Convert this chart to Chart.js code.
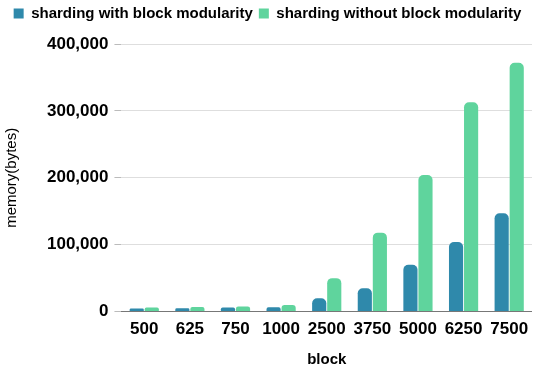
<!DOCTYPE html>
<html>
<head>
<meta charset="utf-8">
<script src="https://cdn.jsdelivr.net/npm/chart.js@4.4.1/dist/chart.umd.min.js"></script>
<style>
  html, body { margin: 0; padding: 0; background: #fff; }
  #wrap { width: 550px; height: 373px; }
</style>
</head>
<body>
<div id="wrap"><canvas id="chart"></canvas></div>
<script>
'use strict';

// categories (block count) and memory values in bytes
const blocks      = ['500', '625', '750', '1000', '2500', '3750', '5000', '6250', '7500'];
const withMod     = [4500, 5000, 6000, 6500, 20000, 35000, 70000, 104000, 147000];
const withoutMod  = [6000, 7000, 7500, 10000, 50000, 118000, 204000, 313000, 372000];
const yTicks      = [0, 100000, 200000, 300000, 400000];

const BLUE  = '#2f89ab';
const GREEN = '#5fd49d';
const FONT  = '"Liberation Sans", Arial, sans-serif';

// a bit of extra room under the legend
const legendGap = {
    id: 'legendGap',
    beforeInit(chart) {
        const fit = chart.legend.fit;
        chart.legend.fit = function () { fit.call(this); this.height += 13; };
    }
};

new Chart(document.getElementById('chart'), {
    type: 'bar',
    data: {
        labels: blocks,
        datasets: [
            { label: 'sharding with block modularity',    data: withMod,    backgroundColor: BLUE,  borderRadius: 5 },
            { label: 'sharding without block modularity', data: withoutMod, backgroundColor: GREEN, borderRadius: 5 }
        ]
    },
    plugins: [legendGap],
    options: {
        responsive: true,
        maintainAspectRatio: false,
        animation: false,
        devicePixelRatio: 1,
        layout: { padding: { left: 3, right: 18, top: 0, bottom: 4 } },
        datasets: { bar: { categoryPercentage: 0.66, barPercentage: 0.94 } },
        plugins: {
            legend: {
                position: 'top',
                labels: {
                    boxWidth: 10, boxHeight: 10, padding: 6,
                    color: '#000',
                    font: { family: FONT, size: 15, weight: 'bold' }
                }
            },
            tooltip: { enabled: false }
        },
        scales: {
            x: {
                grid: { display: false, drawTicks: false },
                border: { display: false },
                ticks: { color: '#000', padding: 8, font: { family: FONT, size: 17, weight: 'bold' } },
                title: { display: true, text: 'block', color: '#000', padding: { top: 3, bottom: 0 },
                         font: { family: FONT, size: 15, weight: 'bold' } }
            },
            y: {
                min: 0, max: 400000,
                afterBuildTicks: axis => { axis.ticks = yTicks.map(v => ({ value: v })); },
                grid: {
                    color: c => c.tick && c.tick.value === 0 ? '#777' : '#dedede',
                    tickColor: '#bbb',
                    tickLength: 7
                },
                border: { display: false },
                ticks: {
                    color: '#000', padding: 6,
                    font: { family: FONT, size: 17, weight: 'bold' },
                    callback: v => v.toLocaleString('en-US')
                },
                title: { display: true, text: 'memory(bytes)', color: '#000', padding: { top: 0, bottom: 20 },
                         font: { family: FONT, size: 15 } }
            }
        }
    }
});
</script>
</body>
</html>
